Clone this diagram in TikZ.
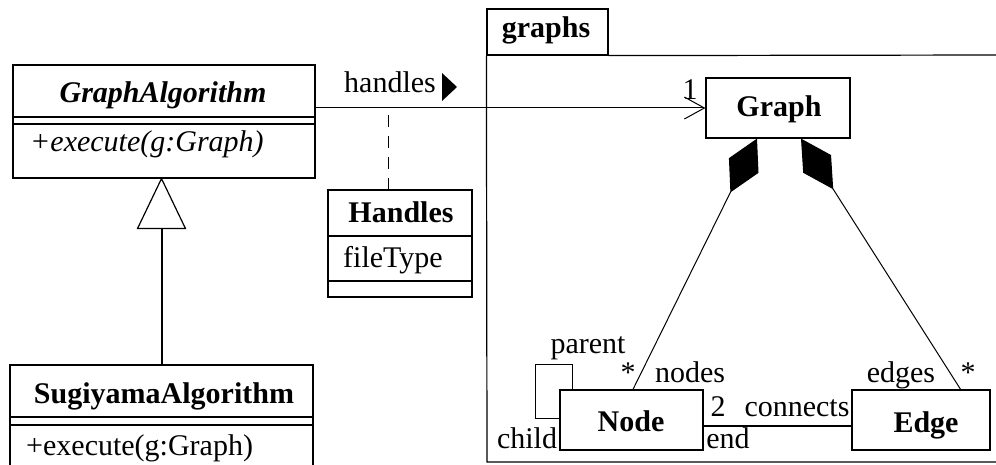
\documentclass[tikz,border=0pt]{standalone}
\usepackage{fontspec}
\setmainfont{Liberation Serif}
\usetikzlibrary{arrows.meta,calc}
\begin{document}
\begin{tikzpicture}[x=1pt,y=-1pt,
  box/.style={draw,line width=1.2pt,inner sep=0pt,rectangle},
  txt/.style={font=\fontsize{30}{36}\selectfont,inner sep=0pt,anchor=base},
  ltxt/.style={txt,anchor=base west},
  sep/.style={line width=2pt},
  thinline/.style={line width=1pt}]
\useasboundingbox (0,0) rectangle (996,465);
\clip (0,0) rectangle (996,465);
% GraphAlgorithm
\node[box,minimum width=302pt,minimum height=113pt] (ga) at (164,121.5) {};
\draw[sep] ($(ga.north west)+(0,53)$) -- ($(ga.north east)+(0,53)$);
\draw[sep] ($(ga.north west)+(0,60)$) -- ($(ga.north east)+(0,60)$);
\node[txt,font=\fontsize{30}{36}\selectfont\bfseries\itshape] (gat) at (163,103) {GraphAlgorithm};
\node[ltxt,font=\fontsize{30}{36}\selectfont\itshape] (gaop) at (30,152) {+execute(g:Graph)};
% SugiyamaAlgorithm
\node[box,minimum width=303pt,minimum height=115pt] (sa) at (161.5,422.5) {};
\draw[sep] ($(sa.north west)+(0,53)$) -- ($(sa.north east)+(0,53)$);
\draw[sep] ($(sa.north west)+(0,61)$) -- ($(sa.north east)+(0,61)$);
\node[txt,font=\fontsize{30}{36}\selectfont\bfseries] (sat) at (164,403) {SugiyamaAlgorithm};
\node[ltxt] (saop) at (26,455) {+execute(g:Graph)};
% generalization
\coordinate (apex) at (sa.north |- ga.south);
\coordinate (tribase) at ($(apex)+(0,50)$);
\draw[line width=1.2pt] (apex) -- ++(-24,50) -- ++(48,0) -- cycle;
\draw[sep] (sa.north) -- (tribase);
% Handles association class
\node[box,minimum width=144pt,minimum height=107pt] (hd) at (400,243.5) {};
\draw[sep] ($(hd.north west)+(0,47)$) -- ($(hd.north east)+(0,47)$);
\draw[sep] ($(hd.north west)+(0,92)$) -- ($(hd.north east)+(0,92)$);
\node[txt,font=\fontsize{30}{36}\selectfont\bfseries] (hdt) at (401,223) {Handles};
\node[ltxt] (hda) at (343,267) {fileType};
% package graphs
\node[box,minimum width=121pt,minimum height=46pt] (tab) at (547.5,32) {};
\node[txt,font=\fontsize{30}{36}\selectfont\bfseries] (tabt) at (546,38) {graphs};
\draw[line width=1.2pt] (tab.south west) -- (487,462) -- (1000,462);
\draw[line width=1.2pt] (tab.south east) -- (1000,55);
% classes in package
\node[box,minimum width=144pt,minimum height=60pt] (gr) at (778,108) {};
\node[txt,font=\fontsize{30}{36}\selectfont\bfseries] (grt) at (779,117) {Graph};
\node[box,minimum width=143pt,minimum height=60pt] (nd) at (631.5,420) {};
\node[txt,font=\fontsize{30}{36}\selectfont\bfseries] (ndt) at (631,431) {Node};
\node[box,minimum width=138pt,minimum height=60pt] (ed) at (921,420) {};
\node[txt,font=\fontsize{30}{36}\selectfont\bfseries] (edt) at (926,432) {Edge};
% association handles
\coordinate (as) at (ga.east |- gr.west);
\draw[thinline,-{Straight Barb[length=20pt,width=22pt]}] (as) -- (gr.west);
\node[txt] (hl) at (390,93) {handles};
\fill (442,73) -- (442,101) -- (457,87) -- cycle;
\node[txt] (one) at (690,100) {1};
\coordinate (dtop) at (388,115);
\draw[thinline,dash pattern=on 12pt off 9pt] (dtop) -- (dtop |- hd.north);
% compositions
\draw[thinline,-{Diamond[length=60pt,width=33pt,fill=black]}] ($(nd.north)+(1.5,0)$) -- ($(gr.south)+(-21,0)$);
\draw[thinline,-{Diamond[length=60pt,width=33pt,fill=black]}] ($(ed.north east)+(-30,0)$) -- ($(gr.south)+(23,0)$);
% self association
\draw[thinline] ($(nd.north west)+(13,0)$) |- (535,364) |- ($(nd.west)+(0,-2)$);
% node-edge
\draw[sep] ($(nd.east)+(0,6)$) -- ($(ed.west)+(0,6)$);
% labels
\node[txt] (lparent) at (588,353) {parent};
\node[txt] (lchild) at (527,448) {child};
\node[txt] (lstar1) at (628,382) {*};
\node[txt] (lnodes) at (690,382) {nodes};
\node[txt] (ledges) at (901,382) {edges};
\node[txt] (lstar2) at (968,382) {*};
\node[txt] (ltwo) at (718,416) {2};
\node[txt] (lconn) at (797,416) {connects};
\node[txt] (lend) at (728,448) {end};
\end{tikzpicture}
\end{document}
